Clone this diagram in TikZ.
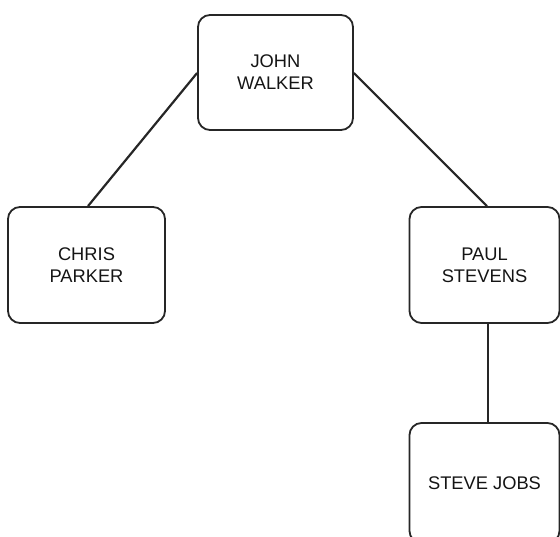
\documentclass[tikz,border=0pt]{standalone}
\usepackage{fontspec}
\setmainfont{Liberation Sans}
\begin{document}
\begin{tikzpicture}[x=1pt,y=1pt,
  person/.style={draw=black!85, line width=1.8pt, rounded corners=12pt,
    minimum width=#1, align=center, font=\fontsize{18.3}{22}\selectfont,
    text=black!92, inner sep=0pt},
  person/.default=155pt,
  link/.style={draw=black!85, line width=2.2pt}]
\useasboundingbox (0,0) rectangle (560,536);
% boxes (coordinates follow the page, origin at bottom-left)
\node[person=155pt, minimum height=115pt] (john) at (275.5,463.5) {JOHN\\WALKER};
\node[person=157pt, minimum height=116pt] (chris) at (86.5,271) {CHRIS\\PARKER};
\node[person=150pt, minimum height=116pt] (paul) at (484.5,271) {PAUL\\STEVENS};
\node[person=150pt, minimum height=120pt] (steve) at (484.5,53) {STEVE JOBS};
% connectors
\coordinate (jl) at ([yshift=-0.5pt]john.west);
\coordinate (jr) at ([yshift=-0.5pt]john.east);
\draw[link] (jl) -- (chris.north -| 88,0);
\draw[link] (jr) -- (paul.north -| 487,0);
\draw[link] (paul.south -| 488,0) -- (steve.north -| 488,0);
\end{tikzpicture}
\end{document}
